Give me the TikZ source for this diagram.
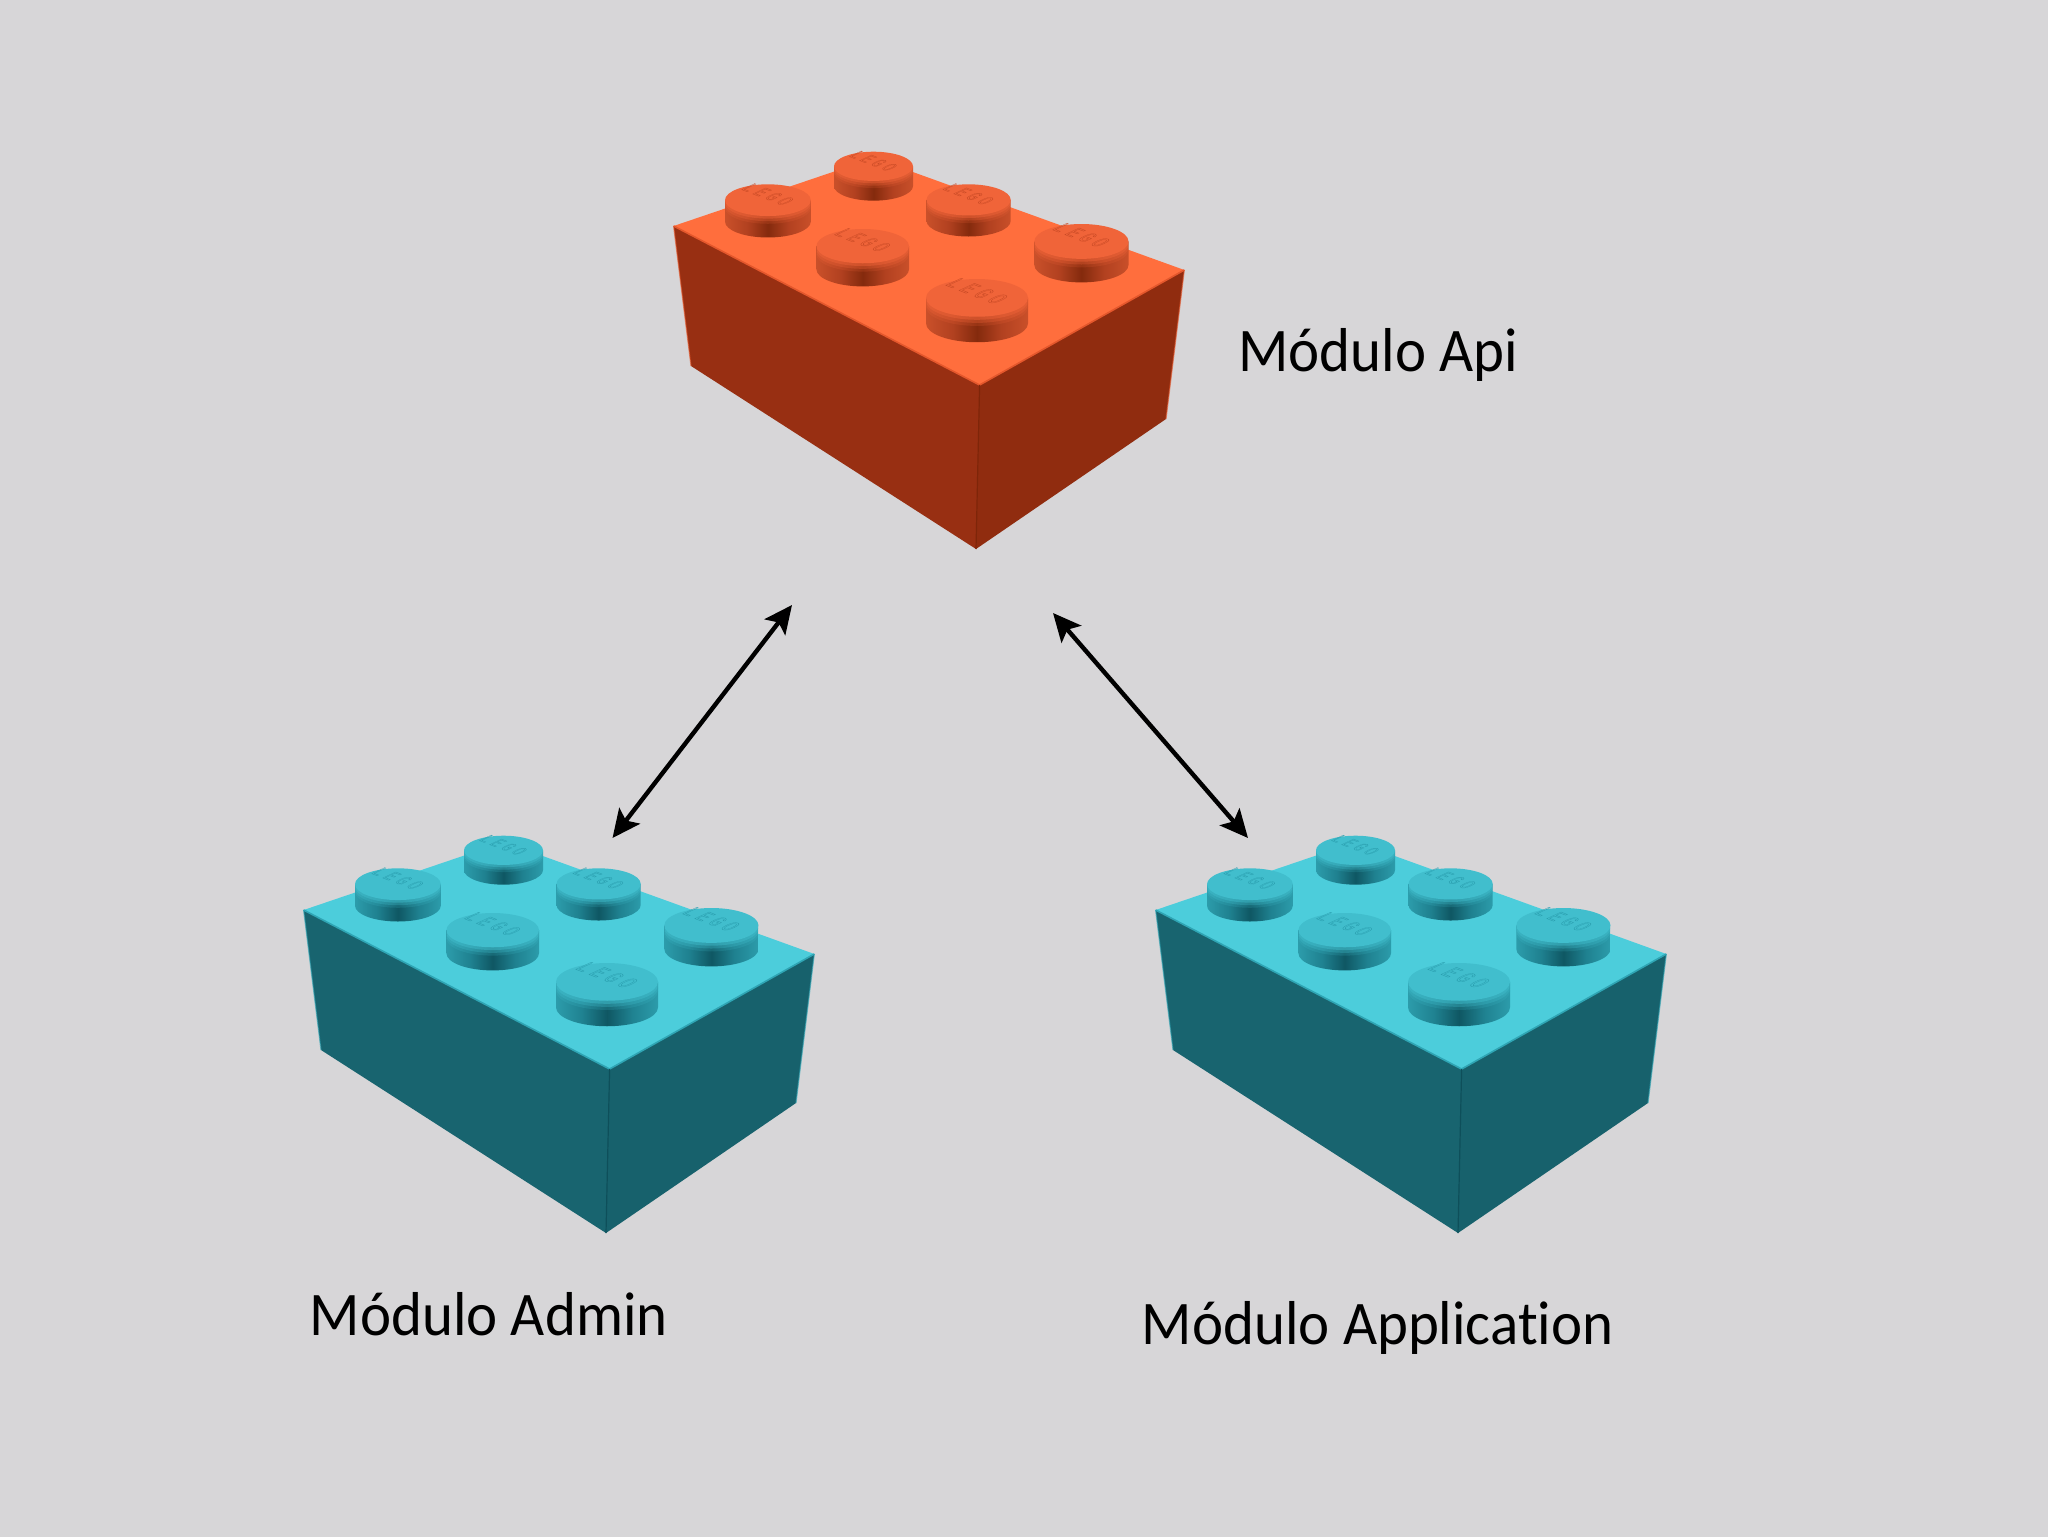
\documentclass[tikz,border=0pt]{standalone}
\usepackage{fontspec}
\setmainfont[Ligatures=CommonOff,FakeStretch=0.95]{Carlito}
\newfontfamily\legofont[LetterSpace=30]{Liberation Mono}
\usetikzlibrary{arrows.meta}
\definecolor{bgc}{HTML}{D7D6D8}
\definecolor{otop}{HTML}{FF6E3D}
\definecolor{ostud}{HTML}{F06439}
\definecolor{oleft}{HTML}{982F12}
\definecolor{oright}{HTML}{902C0F}
\definecolor{orim}{HTML}{E4572C}
\definecolor{oline}{HTML}{7E2509}
\definecolor{ologo}{HTML}{C94A25}
\definecolor{osa}{HTML}{C9502A}
\definecolor{osb}{HTML}{B24120}
\definecolor{osc}{HTML}{842A0D}
\definecolor{ttop}{HTML}{4CCDDB}
\definecolor{tstud}{HTML}{41BECD}
\definecolor{tleft}{HTML}{18646F}
\definecolor{tright}{HTML}{17616C}
\definecolor{trim}{HTML}{2FA5B4}
\definecolor{tline}{HTML}{0E4F5A}
\definecolor{tlogo}{HTML}{2A9FAF}
\definecolor{tsa}{HTML}{2C9CAB}
\definecolor{tsb}{HTML}{1F8190}
\definecolor{tsc}{HTML}{0F5763}
\pgfdeclarehorizontalshading{oside}{100bp}{color(0bp)=(osa);color(25bp)=(osa);color(38bp)=(osb);color(50bp)=(osc);color(62bp)=(osb);color(75bp)=(osa);color(100bp)=(osa)}
\pgfdeclarehorizontalshading{tside}{100bp}{color(0bp)=(tsa);color(25bp)=(tsa);color(38bp)=(tsb);color(50bp)=(tsc);color(62bp)=(tsb);color(75bp)=(tsa);color(100bp)=(tsa)}
\tikzset{
  label text/.style={anchor=base west,inner sep=0pt,text=black,font=\fontsize{31}{38}\selectfont},
  link/.style={line width=2.2pt,black,{Stealth[length=14pt,width=13pt,inset=3pt]}-{Stealth[length=14pt,width=13pt,inset=3pt]}},
  logo text/.style={inner sep=0pt,transform shape,font=\legofont\fontsize{9}{9}\selectfont},
}
% #1 cx, #2 top y, #3 rx, #4 colour prefix (o/t)
\newcommand{\brickstud}[4]{%
  \pgfmathsetmacro{\rxp}{#3*0.5}%
  \pgfmathsetmacro{\ryp}{#3*0.37*0.5}%
  \pgfmathsetmacro{\cyy}{#2+#3*0.37}%
  \pgfmathsetmacro{\cyb}{#2+#3*0.37+#3*0.5}%
  \pgfmathsetmacro{\kk}{#3/51}%
  \pgfmathsetmacro{\logoy}{\cyy-7*\kk}%
  \pgfmathsetmacro{\softa}{\cyy+#3*0.06}%
  \pgfmathsetmacro{\softb}{\cyy+#3*0.12}%
  \pgfmathsetmacro{\softc}{\cyy+#3*0.18}%
  \shade[shading=#4side] (#1-#3,\cyy) -- (#1-#3,\cyb) arc[start angle=180,end angle=360,x radius=\rxp pt,y radius=\ryp pt] -- (#1+#3,\cyy) -- cycle;
  \fill[#4stud,opacity=.18] (#1,\softc) ellipse[x radius=\rxp pt,y radius=\ryp pt];
  \fill[#4stud,opacity=.3] (#1,\softb) ellipse[x radius=\rxp pt,y radius=\ryp pt];
  \fill[#4stud,opacity=.45] (#1,\softa) ellipse[x radius=\rxp pt,y radius=\ryp pt];
  \fill[#4stud] (#1,\cyy) ellipse[x radius=\rxp pt,y radius=\ryp pt];
  \begin{scope}[shift={(#1,\logoy)},cm={.85,-.33,1.3,.6,(0,0)}]
    \node[logo text,scale=\kk,text=#4logo] at (0,0) {\special{pdf:code 1 Tr 0.2 w}LEGO\special{pdf:code 0 Tr}};
  \end{scope}
}
% #1 dx, #2 dy, #3 colour prefix
\newcommand{\brickshape}[3]{%
  \begin{scope}[shift={(#1,#2)}]
    \fill[#3left] (673.6,226) -- (979.6,385) -- (976,549) -- (691,366) -- cycle;
    \fill[#3right] (979.6,385) -- (1184.3,270) -- (1166,419) -- (976,549) -- cycle;
    \fill[#3top] (673.6,226) -- (874,158) -- (1184.3,270) -- (979.6,385) -- cycle;
    \draw[#3rim,line width=0.8pt,line join=round] (673.6,226) -- (979.6,385) -- (1184.3,270);
    \draw[#3rim,line width=0.6pt,opacity=.6] (673.6,226) -- (691,366);
    \draw[#3rim,line width=0.6pt,opacity=.6] (1184.3,270) -- (1166,419);
    \draw[#3line,line width=0.6pt] (979.6,385) -- (976,549);
    \brickstud{873.5}{151.7}{39.5}{#3}
    \brickstud{767.9}{184.3}{42.9}{#3}
    \brickstud{968.6}{184.3}{42.1}{#3}
    \brickstud{862.7}{229}{46.3}{#3}
    \brickstud{1081.4}{224}{47.1}{#3}
    \brickstud{977}{279}{51}{#3}
  \end{scope}
}
\begin{document}
\begin{tikzpicture}[x=0.5pt,y=-0.5pt]
  \useasboundingbox (0,0) rectangle (2048,1536);
  \fill[bgc] (-6,-6) rectangle (2054,1542);
  \brickshape{0}{0}{o}
  \brickshape{-370}{684}{t}
  \brickshape{482}{684}{t}
  \coordinate (apiL) at (792,605);
  \coordinate (adminT) at (612.5,838);
  \coordinate (apiR) at (1053,613);
  \coordinate (appT) at (1248,838);
  \draw[link] (adminT) -- (apiL);
  \draw[link] (apiR) -- (appT);
  \node[label text] (lapi) at (1238,371) {Módulo Api};
  \node[label text] (ladmin) at (309.5,1335) {Módulo Admin};
  \node[label text] (lapp) at (1141.5,1344) {Módulo Application};
\end{tikzpicture}
\end{document}
